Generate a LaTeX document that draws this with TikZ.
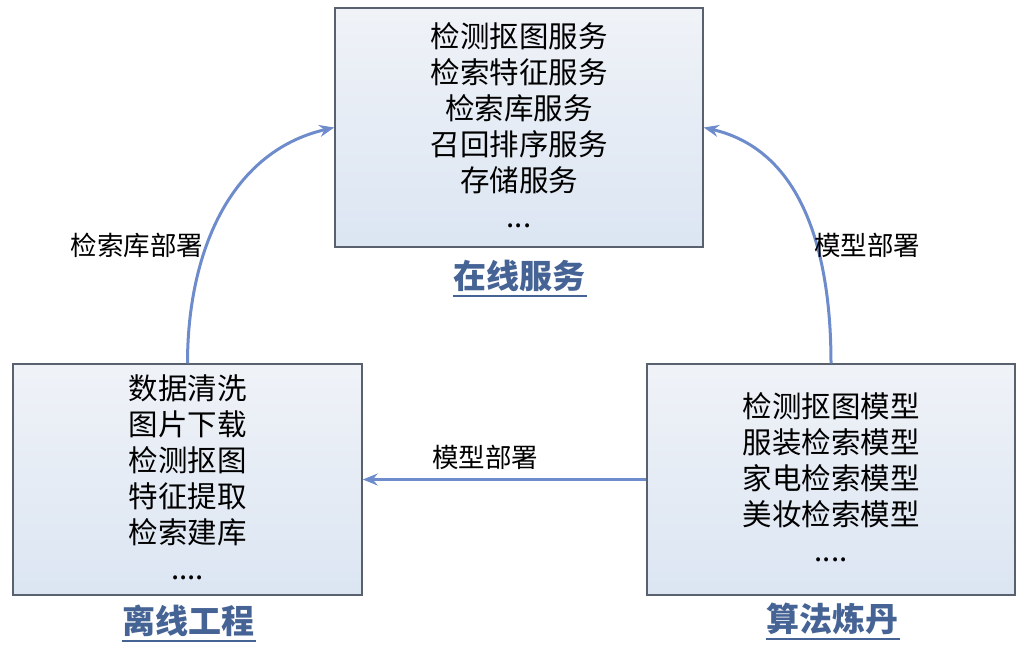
\documentclass[tikz,border=0pt]{standalone}
\usepackage{fontspec}
\setmainfont{Noto Sans CJK SC}
\usetikzlibrary{arrows.meta}
\definecolor{boxline}{rgb}{.35,.38,.43}
\definecolor{boxtop}{rgb}{.94,.95,.97}
\definecolor{boxmid}{rgb}{.73,.80,.89}
\definecolor{boxbot}{rgb}{.86,.90,.95}
\definecolor{arrowblue}{rgb}{.43,.55,.80}
\definecolor{titleblue}{rgb}{.27,.39,.58}

\tikzset{
  panel/.style={draw=boxline, line width=1.5pt, top color=boxtop, middle color=boxmid,
    bottom color=boxbot, align=center, text depth=5pt,
    font=\fontsize{29.5}{36}\selectfont},
  title/.style={text=titleblue, font=\fontsize{33}{40}\selectfont\bfseries, inner sep=0pt},
  deploy/.style={arrowblue, line width=3pt, -{Stealth[length=15pt,width=12pt,inset=5pt]}},
  tag/.style={font=\fontsize{26.5}{30}\selectfont, inner sep=0pt}
}

\begin{document}
\begin{tikzpicture}[x=1pt,y=1pt]
\useasboundingbox (0,0) rectangle (1036,-656);

\coordinate (c1) at (519,-127.5);
\coordinate (c2) at (187.5,-479.5);
\coordinate (c3) at (831,-479.5);

\node[panel, minimum width=368pt, minimum height=239pt] (online) at (c1)
  {检测抠图服务\\检索特征服务\\检索库服务\\召回排序服务\\存储服务\\...};
\node[panel, minimum width=349pt, minimum height=231pt] (offline) at (c2)
  {数据清洗\\图片下载\\检测抠图\\特征提取\\检索建库\\....};
\node[panel, minimum width=368pt, minimum height=231pt] (algo) at (c3)
  {检测抠图模型\\服装检索模型\\家电检索模型\\美妆检索模型\\....};

\node[title] (t1) at (519,-276) {在线服务};
\node[title] (t2) at (188,-621) {离线工程};
\node[title] (t3) at (832,-619) {算法炼丹};
\draw[titleblue, line width=2pt] (t1.south west) ++(0,-4) -- ++(134,0);
\draw[titleblue, line width=2pt] (t2.south west) ++(0,-4) -- ++(134,0);
\draw[titleblue, line width=2pt] (t3.south west) ++(0,-4) -- ++(134,0);

\draw[deploy] (offline.north) to[out=90, in=193] (online.west);
\draw[deploy] (algo.north) to[out=90, in=-13] (online.east);
\draw[deploy] (algo.west) -- (offline.east);

\node[tag] (l1) at (137,-245) {检索库部署};
\node[tag] (l2) at (867,-245) {模型部署};
\node[tag] (l3) at (485,-457) {模型部署};

%\node at (c1){c1};
%\node at (c2){c2};
%\node at (c3){c3};
\end{tikzpicture}
\end{document}
